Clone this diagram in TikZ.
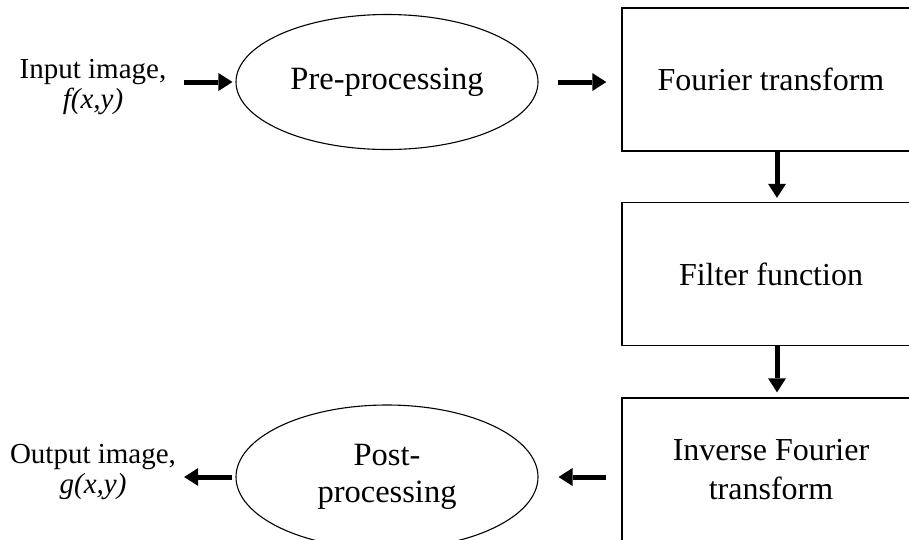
\documentclass[tikz,border=0pt]{standalone}
\usepackage{fontspec}
\setmainfont{Liberation Serif}
\usetikzlibrary{shapes.geometric, arrows.meta}

\tikzset{
  stage/.style={draw, line width=1.4pt, minimum width=298pt, minimum height=143pt,
    align=center, font=\fontsize{32}{39}\selectfont},
  oval/.style={draw, ellipse, line width=1.1pt, minimum width=302pt, minimum height=135pt,
    align=center, font=\fontsize{32.5}{37}\selectfont},
  lbl/.style={align=center, inner sep=0pt, font=\fontsize{29}{30}\selectfont},
  flow/.style={-{Triangle[length=14pt, width=18pt, line width=0pt]}, line width=5pt},
}

\begin{document}
\begin{tikzpicture}[x=1pt, y=-1pt]
  \useasboundingbox (0,0) rectangle (909,539);
  \clip (0,0) rectangle (909,539);
  % top row
  \node[lbl] (inlbl) at (93,87) {Input image,\\ \textit{f(x,y)}};
  \node[oval] (pre) at (387,82) {Pre-processing};
  \node[stage] (fourier) at (771,79.5) {Fourier transform};
  % right column
  \node[stage] (filter) at (771,274) {Filter function};
  \node[stage] (inverse) at (771,469.5) {Inverse Fourier\\ transform};
  % bottom row
  \node[oval, minimum height=144pt] (post) at (387,477) {Post-\\ processing};
  \node[lbl] (outlbl) at (93,472) {Output image,\\ \textit{g(x,y)}};
  % arrows
  \draw[flow, shorten <=18pt, shorten >=3pt] (pre.west -| inlbl.east) -- (pre.west);
  \draw[flow, shorten <=19pt, shorten >=15pt] (pre.east) -- (pre.east -| fourier.west);
  \draw[flow, shorten >=4pt] ([xshift=6pt]fourier.south) -- ([xshift=6pt]filter.north);
  \draw[flow, shorten >=5pt] ([xshift=6pt]filter.south) -- ([xshift=6pt]inverse.north);
  \draw[flow, shorten <=15pt, shorten >=20pt] (post.east -| inverse.west) -- (post.east);
  \draw[flow, shorten <=3pt, shorten >=8pt] (post.west) -- (post.west -| outlbl.east);
\end{tikzpicture}
\end{document}
